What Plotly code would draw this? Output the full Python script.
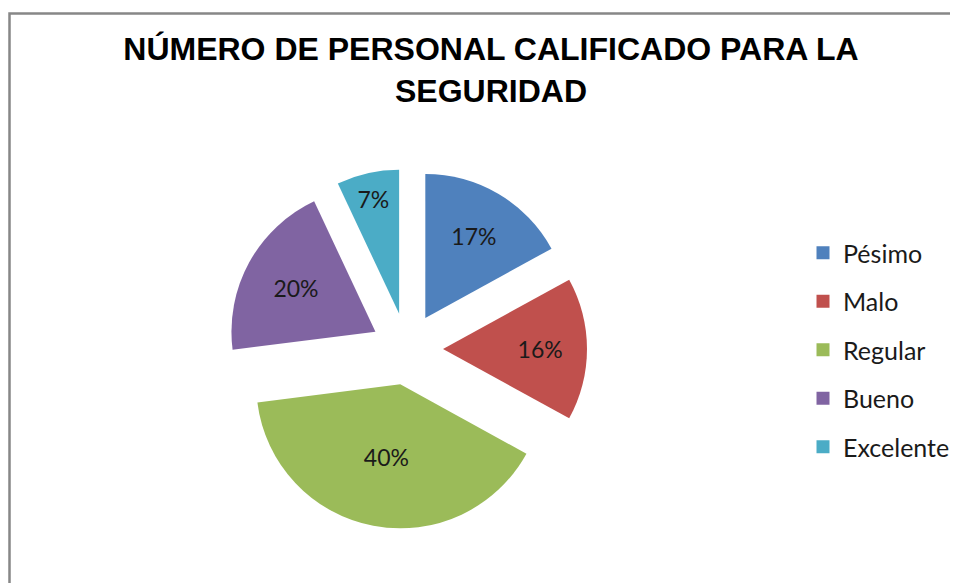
import plotly.graph_objects as go

categories = ["Pésimo", "Malo", "Regular", "Bueno", "Excelente"]
values = [17, 16, 40, 20, 7]
colors = ["#4F81BD", "#C0504D", "#9BBB59", "#8064A2", "#4BACC6"]
title_text = "NÚMERO DE PERSONAL CALIFICADO PARA LA<br>SEGURIDAD"

W, H = 958, 583

fig = go.Figure()

fig.add_trace(go.Pie(
    labels=categories,
    values=values,
    sort=False,
    direction="clockwise",
    rotation=0,
    pull=[0.25] * len(values),
    marker=dict(colors=colors, line=dict(width=0)),
    textinfo="percent",
    textposition="inside",
    insidetextorientation="horizontal",
    textfont=dict(family="Lato", size=23, color="#1a1a1a"),
    showlegend=False,
    hoverinfo="label+percent",
    domain=dict(x=[219 / W, 579 / W], y=[1 - 521 / H, 1 - 161 / H]),
))

# legend entries (square swatches)
for cat, col in zip(categories, colors):
    fig.add_trace(go.Scatter(
        x=[None], y=[None], mode="markers", name=cat,
        marker=dict(symbol="square", size=13, color=col),
        legendgroup=cat, showlegend=True,
    ))

fig.update_layout(
    width=W, height=H,
    margin=dict(l=0, r=0, t=0, b=0),
    paper_bgcolor="white",
    plot_bgcolor="white",
    xaxis=dict(visible=False),
    yaxis=dict(visible=False),
    title=dict(
        text=title_text,
        x=483 / W, xanchor="center",
        y=1 - 52 / H, yanchor="top",
        font=dict(family="Liberation Sans", size=32, color="#000000", weight="bold"),
    ),
    legend=dict(
        x=795 / W, xanchor="left",
        y=1 - 342 / H, yanchor="middle",
        font=dict(family="Lato", size=25, color="#1a1a1a"),
        tracegroupgap=13,
        bgcolor="rgba(0,0,0,0)",
    ),
    shapes=[dict(
        type="rect", xref="paper", yref="paper",
        x0=1.5 / W, x1=1.05, y0=-0.05, y1=1 - 5.5 / H,
        line=dict(color="#878787", width=2.5),
        fillcolor="rgba(0,0,0,0)",
    )],
)

fig.write_html("out.html")
